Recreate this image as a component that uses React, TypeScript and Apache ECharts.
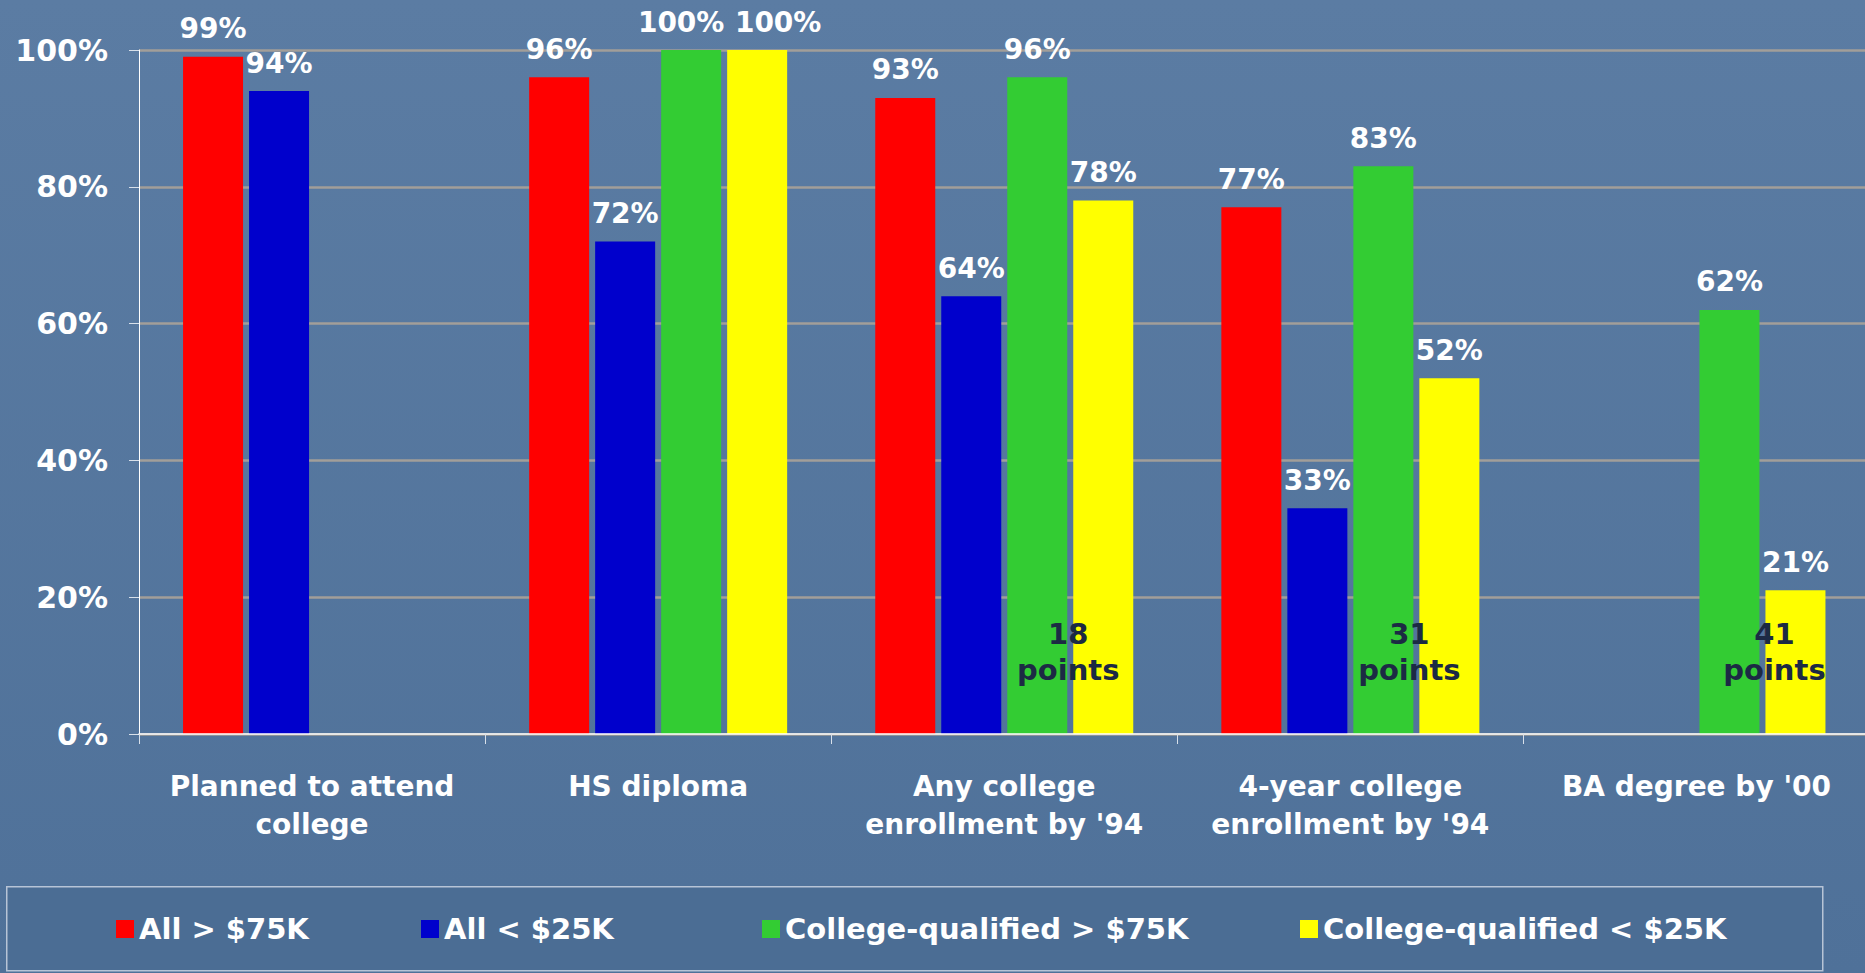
import React, { useEffect, useRef } from "react";
import * as echarts from "echarts";

const categories = [
  "Planned to attend\ncollege",
  "HS diploma",
  "Any college\nenrollment by '94",
  "4-year college\nenrollment by '94",
  "BA degree by '00",
];
const seriesNames = [
  "All > $75K",
  "All < $25K",
  "College-qualified > $75K",
  "College-qualified < $25K",
];
const allHigh = [99, 96, 93, 77, null];
const allLow = [94, 72, 64, 33, null];
const qualHigh = [null, 100, 96, 83, 62];
const qualLow = [null, 100, 78, 52, 21];
const yTicks = [0, 20, 40, 60, 80, 100];
const gapAnnotations = [
  { cat: 2, y: 12, dx: -35 },
  { cat: 3, y: 12, dx: -40 },
  { cat: 4, y: 12, dx: -21 },
];
const colors = ["#ff0000", "#0000cc", "#33cc33", "#ffff00"];
const legendLefts = [116, 421, 762, 1300];

const FONT = "'DejaVu Sans', Verdana, sans-serif";

export default function App() {
  const ref = useRef<HTMLDivElement>(null);
  useEffect(() => {
    document.body.style.margin = "0";
    const chart = echarts.init(ref.current!, null, { renderer: "svg" });
    const labelStyle = {
      show: true,
      position: "top",
      distance: 14,
      formatter: (p: any) => (p.value == null ? "" : p.value + "%"),
      color: "#ffffff",
      fontSize: 28,
      fontWeight: "bold",
      fontFamily: FONT,
    };
    const withOffsets = (arr: (number | null)[], offsets: Record<number, number>) =>
      arr.map((v, i) =>
        offsets[i] !== undefined && v != null
          ? { value: v, label: { offset: [offsets[i], 0] } }
          : v
      );
    const datas = [
      allHigh,
      allLow,
      withOffsets(qualHigh, { 1: -10 }),
      withOffsets(qualLow, { 1: 21 }),
    ];
    const series: any[] = seriesNames.map((name, i) => ({
      name,
      type: "bar",
      data: datas[i],
      barWidth: 60,
      barGap: "10%",
      itemStyle: { color: colors[i] },
      label: labelStyle,
      z: 3,
    }));
    series[3].markPoint = {
      symbol: "circle",
      symbolSize: 1,
      itemStyle: { color: "rgba(0,0,0,0)" },
      silent: true,
      label: {
        show: true,
        position: "inside",
        color: "#1c2a44",
        fontSize: 29,
        fontWeight: "bold",
        fontFamily: FONT,
        lineHeight: 36,
        formatter: (p: any) => p.value + "\npoints",
      },
      data: gapAnnotations.map((a) => ({
        coord: [a.cat, a.y],
        value: (qualHigh[a.cat] as number) - (qualLow[a.cat] as number),
        label: { offset: [a.dx, 0] },
      })),
    };

    const legends = seriesNames.map((name, i) => ({
      data: [name],
      left: legendLefts[i],
      top: 914,
      padding: 0,
      itemWidth: 18,
      itemHeight: 18,
      icon: "rect",
      selectedMode: false,
      textStyle: {
        color: "#ffffff",
        fontSize: 29,
        fontWeight: "bold",
        fontFamily: FONT,
        lineHeight: 30,
      },
    }));

    chart.setOption({
      animation: false,
      backgroundColor: {
        type: "linear",
        x: 0,
        y: 0,
        x2: 0,
        y2: 1,
        colorStops: [
          { offset: 0, color: "#5b7ca3" },
          { offset: 1, color: "#4f7199" },
        ],
      },
      textStyle: { fontFamily: FONT },
      graphic: [
        {
          type: "rect",
          left: 6,
          top: 886,
          shape: { width: 1816, height: 84 },
          style: { fill: "#4b6d94", stroke: "#b7c4d6", lineWidth: 1.5 },
          z: -1,
          silent: true,
        },
      ],
      legend: legends,
      grid: {
        left: 139,
        top: 50,
        width: 1730.5,
        height: 684,
        containLabel: false,
        outerBoundsMode: "none",
      },
      xAxis: {
        type: "category",
        data: categories,
        axisLine: { show: true, lineStyle: { color: "#ffffff", width: 1.5 } },
        axisTick: { show: true, length: 10, lineStyle: { color: "#d8e0ea", width: 1 } },
        axisLabel: {
          interval: 0,
          color: "#ffffff",
          fontSize: 28,
          fontWeight: "bold",
          fontFamily: FONT,
          lineHeight: 38,
          margin: 33,
        },
        splitLine: { show: false },
        z: 5,
      },
      yAxis: {
        type: "value",
        min: yTicks[0],
        max: yTicks[yTicks.length - 1],
        interval: yTicks[1] - yTicks[0],
        axisLine: { show: true, lineStyle: { color: "#ffffff", width: 1 } },
        axisTick: { show: true, length: 10, lineStyle: { color: "#d8e0ea", width: 1 } },
        axisLabel: {
          formatter: "{value}%",
          color: "#ffffff",
          fontSize: 30,
          fontWeight: "bold",
          fontFamily: FONT,
          margin: 31,
        },
        splitLine: { show: true, lineStyle: { color: "#a29e99", width: 2.5 } },
      },
      series,
    });
    return () => chart.dispose();
  }, []);
  return <div ref={ref} style={{ width: 1865, height: 973 }} />;
}
